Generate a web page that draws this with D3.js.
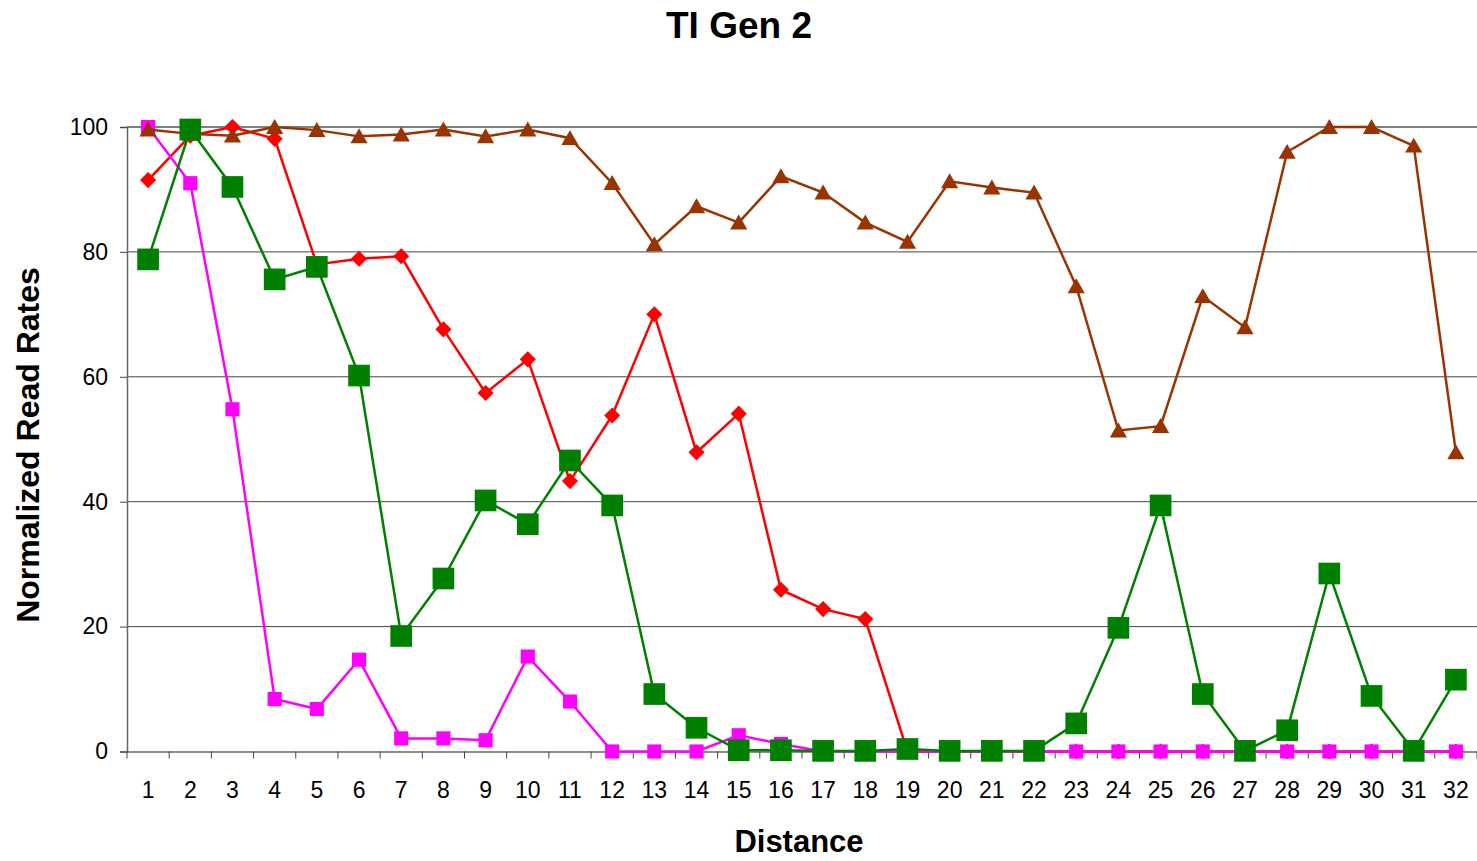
<!DOCTYPE html>
<html>
<head>
<meta charset="utf-8">
<script src="https://cdn.jsdelivr.net/npm/d3@7"></script>
<style>
  html, body { margin: 0; padding: 0; background: #fff; }
  svg { display: block; font-family: Arial, "Liberation Sans", sans-serif; }
</style>
</head>
<body>
<svg id="chart" width="1477" height="861"></svg>
<script>
const categories = d3.range(1, 33).map(String);
const yTicks = [0, 20, 40, 60, 80, 100];

const redDiamond = [91.5, 98.6, 100, 98.1, 78.0, 78.9, 79.3, 67.6, 57.4, 62.8, 43.3, 53.8, 70.0, 47.9, 54.1, 25.9, 22.8, 21.2, 0, 0, 0, 0, 0, 0, 0, 0, 0, 0, 0, 0, 0, 0];
const magentaSquare = [100, 91.0, 54.8, 8.4, 6.8, 14.7, 2.1, 2.1, 1.8, 15.2, 8.0, 0, 0, 0, 2.6, 1.2, 0, 0, 0, 0, 0, 0, 0, 0, 0, 0, 0, 0, 0, 0, 0, 0];
const brownTriangle = [99.6, 98.9, 98.6, 100, 99.5, 98.5, 98.8, 99.6, 98.5, 99.6, 98.2, 91.0, 81.2, 87.3, 84.7, 92.1, 89.5, 84.7, 81.6, 91.3, 90.3, 89.5, 74.5, 51.4, 52.1, 72.9, 67.9, 96.0, 100, 100, 97.0, 47.9];
const greenSquare = [78.8, 99.6, 90.4, 75.6, 77.6, 60.2, 18.5, 27.7, 40.2, 36.4, 46.6, 39.4, 9.2, 3.8, 0.2, 0.2, 0.1, 0.1, 0.4, 0.1, 0.1, 0.1, 4.5, 19.8, 39.4, 9.2, 0.1, 3.4, 28.5, 8.9, 0.1, 11.5];

// custom marker shapes
const diamondShape = { draw(ctx, size) { const r = Math.sqrt(size / 2); ctx.moveTo(0, -r); ctx.lineTo(r, 0); ctx.lineTo(0, r); ctx.lineTo(-r, 0); ctx.closePath(); } };
const triangleShape = { draw(ctx, size) { const w = Math.sqrt(size) * 0.68, h = Math.sqrt(size) * 0.64; ctx.moveTo(0, -h); ctx.lineTo(w, h * 0.85); ctx.lineTo(-w, h * 0.85); ctx.closePath(); } };

const series = [
  { values: redDiamond, color: "#FF0000", shape: diamondShape, size: 130 },
  { values: magentaSquare, color: "#FF00FF", shape: d3.symbolSquare, size: 200 },
  { values: brownTriangle, color: "#993300", shape: triangleShape, size: 160 },
  { values: greenSquare, color: "#008000", shape: d3.symbolSquare, size: 470 }
];

const svg = d3.select("#chart");
const pLeft = 127, pRight = 1477, pTop = 127, pBottom = 751.5;

const x = d3.scaleBand().domain(categories).range([pLeft, pRight]);
const y = d3.scaleLinear().domain([0, 100]).range([pBottom, pTop]);

// gridlines
svg.append("g")
  .selectAll("line").data(yTicks.filter(d => d > 0)).join("line")
  .attr("x1", pLeft).attr("x2", pRight)
  .attr("y1", d => y(d)).attr("y2", d => y(d))
  .attr("stroke", d => d === 100 ? "#000" : "#444").attr("stroke-width", 1);

// y axis
const yAxis = svg.append("g").attr("transform", `translate(${pLeft},0)`)
  .call(d3.axisLeft(y).tickValues(yTicks).tickSize(7).tickPadding(12));
yAxis.select(".domain").attr("stroke", "#666").attr("stroke-width", 1.5);
yAxis.selectAll(".tick line").attr("stroke", "#444");
yAxis.selectAll("text").attr("font-size", 23).attr("fill", "#000")
  .attr("font-family", "Arial, 'Liberation Sans', sans-serif");

// x axis
const xAxis = svg.append("g").attr("transform", `translate(0,${pBottom})`)
  .call(d3.axisBottom(x).tickSize(0).tickPadding(30));
xAxis.select(".domain").attr("stroke", "#666").attr("stroke-width", 1.5);
xAxis.selectAll("text").attr("font-size", 23).attr("fill", "#000")
  .attr("font-family", "Arial, 'Liberation Sans', sans-serif");
// category boundary ticks
const bounds = categories.map(c => x(c)).concat([pRight]);
svg.append("g").selectAll("line")
  .data(bounds).join("line")
  .attr("x1", d => d).attr("x2", d => d)
  .attr("y1", pBottom).attr("y2", pBottom + 7)
  .attr("stroke", "#444").attr("stroke-width", 1);

const cx = (d, i) => x(categories[i]) + x.bandwidth() / 2;

series.forEach(s => {
  const g = svg.append("g");
  g.append("path")
    .datum(s.values)
    .attr("fill", "none")
    .attr("stroke", s.color)
    .attr("stroke-width", 2.5)
    .attr("d", d3.line().x(cx).y(d => y(d)));
  g.selectAll("path.m").data(s.values).join("path")
    .attr("class", "m")
    .attr("transform", (d, i) => `translate(${cx(d, i)},${y(d)})`)
    .attr("d", d3.symbol().type(s.shape).size(s.size))
    .attr("fill", s.color);
});

// titles
svg.append("text").attr("x", 739).attr("y", 38).attr("text-anchor", "middle")
  .attr("font-size", 37).attr("font-weight", "bold").text("TI Gen 2");
svg.append("text").attr("x", 799).attr("y", 852).attr("text-anchor", "middle")
  .attr("font-size", 31).attr("font-weight", "bold").text("Distance");
svg.append("text").attr("transform", "translate(39,445) rotate(-90)").attr("text-anchor", "middle")
  .attr("font-size", 32).attr("font-weight", "bold").text("Normalized Read Rates");
</script>
</body>
</html>
